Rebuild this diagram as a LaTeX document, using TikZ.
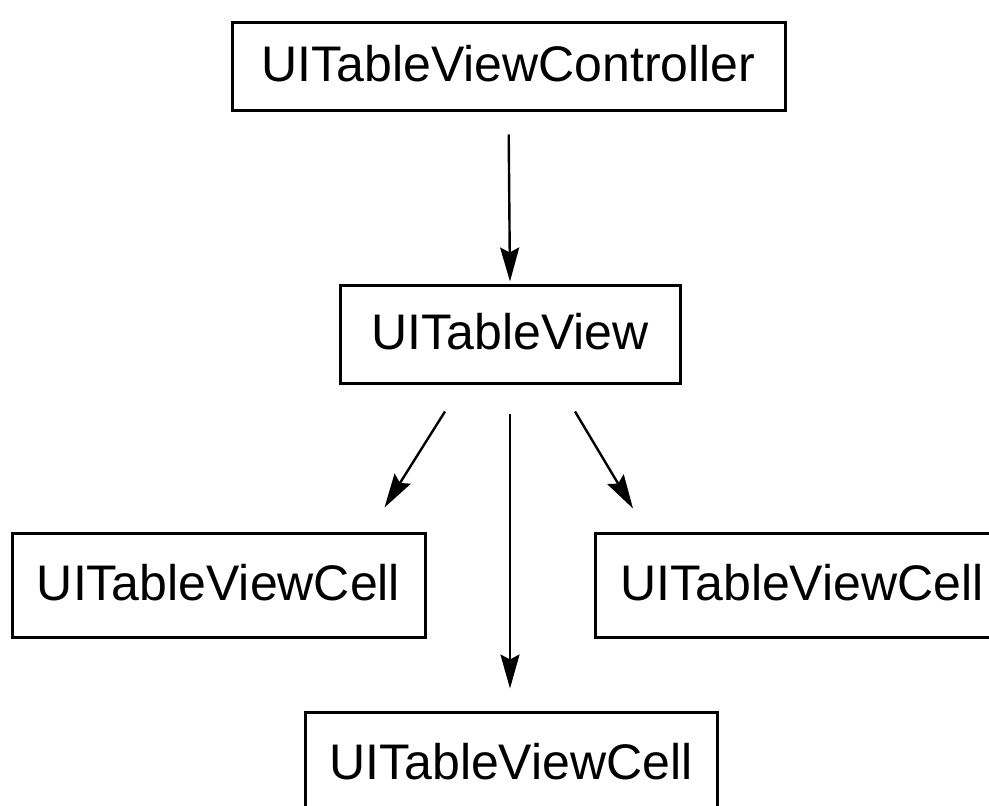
\documentclass[tikz,border=0pt]{standalone}
\usepackage{fontspec}
\setmainfont{Liberation Sans}
\usetikzlibrary{arrows.meta}
\tikzset{
    classbox/.style={draw, line width=3pt, inner sep=0pt, text depth=6pt,
        font=\fontsize{50}{60}\selectfont},
    arr/.style={line width=2.4pt, -{Stealth[length=34pt,width=19pt,inset=5pt]}}
}
\begin{document}
\begin{tikzpicture}[x=1pt,y=-1pt]
    \useasboundingbox (0,0) rectangle (989,806);
    \node [classbox, minimum width=553pt, minimum height=88pt] (ctrl) at (508.5,66) {UITableViewController};
    \node [classbox, minimum width=340pt, minimum height=98pt] (view) at (510,334) {UITableView};
    \node [classbox, minimum width=413pt, minimum height=104pt] (leftcell) at (218.5,585) {UITableViewCell};
    \node [classbox, minimum width=413pt, minimum height=104pt] (rightcell) at (802,585) {UITableViewCell};
    \node [classbox, minimum width=412pt, minimum height=104pt] (bottomcell) at (511,764) {UITableViewCell};
    \draw [arr, shorten <=23pt, shorten >=2pt] (ctrl.south) -- (view.north);
    \draw [arr] ([xshift=-65pt,yshift=-27pt]view.south) -- ([xshift=166pt,yshift=24pt]leftcell.north);
    \draw [arr, shorten <=29pt, shorten >=22pt] (view.south) -- (bottomcell.north -| view.south);
    \draw [arr] ([xshift=65pt,yshift=-27pt]view.south) -- ([xshift=-169pt,yshift=23pt]rightcell.north);
\end{tikzpicture}
\end{document}
